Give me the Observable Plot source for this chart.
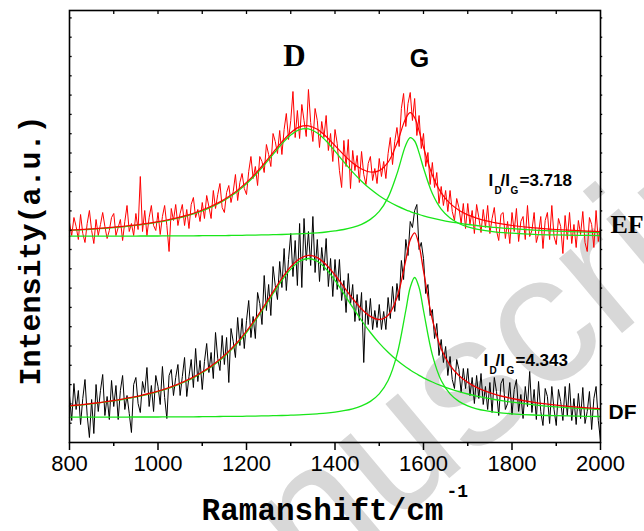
<!DOCTYPE html>
<html><head><meta charset="utf-8">
<script src="https://cdn.jsdelivr.net/npm/d3@7"></script>
<script src="https://cdn.jsdelivr.net/npm/@observablehq/plot@0.6"></script>
<style>body{margin:0;background:#fff}#chart svg{display:block}</style>
</head><body><div id="chart"></div>
<script>
// Raman shift grid of the measured spectra (cm^-1)
const ramanX = d3.range(800, 2001, 5);
// EF measured spectrum (a.u., offset trace)
const efRaw = [220,207,225,216,203,228,209,200,219,232,212,199,223,207,218,230,216,204,212,225,229,207,215,223,202,221,237,211,219,207,229,213,266,211,232,207,225,237,217,212,230,208,226,237,217,191,234,222,238,217,229,238,217,233,214,238,245,225,233,221,240,224,247,236,224,252,234,248,259,235,230,250,257,240,251,268,242,260,269,254,248,271,286,264,276,257,286,281,270,298,288,276,309,301,289,312,288,313,329,303,322,351,305,332,304,338,322,306,353,320,301,334,322,295,321,305,327,292,309,281,313,299,272,255,302,276,303,254,292,272,287,260,291,268,258,279,286,262,274,259,284,266,281,264,289,305,278,301,315,296,334,349,316,339,350,322,344,307,327,294,309,276,290,258,280,255,270,239,256,237,252,231,252,231,222,244,235,219,239,214,239,218,232,209,238,225,210,233,215,237,209,224,235,212,202,228,230,204,221,199,230,211,234,201,221,226,203,237,206,212,230,200,209,226,194,222,230,203,237,206,198,224,216,189,227,203,230,199,218,195,222,208,231,200,191,225,218,195,232,201,216];
// DF measured spectrum
const dfRaw = [47,22,59,33,52,18,44,63,27,5,43,9,58,31,52,68,27,46,23,62,36,57,23,52,67,33,47,29,10,58,65,39,30,61,50,75,36,57,31,67,56,38,76,45,24,67,73,47,65,78,47,66,85,46,66,83,55,94,61,82,53,81,99,70,90,64,110,84,72,107,78,105,60,114,101,85,125,97,124,94,122,142,105,126,104,150,139,118,167,132,158,127,176,157,143,181,155,194,152,183,209,166,202,157,219,155,224,182,211,177,226,170,203,161,195,172,204,156,184,146,183,153,183,142,162,130,169,138,158,121,148,122,150,80,142,118,144,113,132,115,138,113,131,113,145,124,156,131,159,142,182,163,203,187,221,215,232,238,193,200,184,149,158,127,133,104,119,87,103,80,96,67,86,63,54,83,73,50,74,54,74,47,65,39,67,44,69,38,56,33,60,30,65,51,27,59,64,33,39,60,28,53,63,31,48,24,56,36,71,30,53,23,61,31,17,54,46,19,56,33,17,53,41,22,56,27,59,22,44,18,49,24,55,19,31,51,13,44,56,22,2];
// Fit curves sampled at these shifts
const fitX = [800,820,840,860,880,900,920,940,960,980,1000,1020,1040,1060,1080,1100,1120,1140,1160,1180,1200,1220,1240,1260,1280,1300,1320,1340,1360,1380,1400,1420,1440,1460,1480,1500,1520,1540,1560,1570,1580,1590,1600,1620,1640,1660,1680,1700,1720,1740,1760,1780,1800,1850,1900,1950,2000];
const efFit = [212.4,212.8,213.3,213.9,214.6,215.3,216.2,217.1,218.2,219.4,220.8,222.5,224.4,226.7,229.3,232.5,236.2,240.6,246.0,252.4,260.1,268.9,279.0,289.9,300.6,309.8,315.6,316.7,313.2,306.0,296.9,287.6,279.5,273.5,270.5,271.9,280.3,299.2,324.2,329.8,324.9,311.6,295.2,267.3,249.7,239.1,232.3,227.6,224.4,221.8,219.9,218.3,217.0,214.6,213.0,211.8,210.9];
const efD = [212.1,212.5,213.0,213.6,214.2,214.9,215.7,216.7,217.7,218.9,220.3,221.9,223.8,226.0,228.6,231.7,235.3,239.7,245.0,251.3,258.8,267.5,277.4,288.1,298.6,307.5,312.9,313.6,309.5,301.5,291.3,280.6,270.4,261.3,253.4,246.8,241.2,236.6,232.7,231.0,229.4,228.0,226.7,224.4,222.4,220.7,219.3,218.0,217.0,216.0,215.2,214.4,213.8,212.4,211.4,210.6,210.0];
const efG = [206.3,206.3,206.3,206.4,206.4,206.4,206.4,206.4,206.5,206.5,206.5,206.6,206.6,206.7,206.7,206.8,206.9,206.9,207.0,207.1,207.3,207.4,207.6,207.8,208.0,208.3,208.7,209.1,209.7,210.5,211.6,213.0,215.1,218.2,223.1,231.1,245.1,268.6,297.5,304.8,301.5,289.6,274.5,248.9,233.3,224.4,219.0,215.6,213.4,211.8,210.7,209.9,209.3,208.2,207.6,207.2,206.9];
const dfFit = [36.7,37.5,38.5,39.5,40.7,42.0,43.4,45.1,46.9,49.0,51.4,54.2,57.4,61.2,65.4,70.5,76.4,83.2,91.3,100.5,111.3,123.4,136.7,150.6,164.1,175.7,183.8,187.1,184.9,177.8,167.5,155.6,143.8,133.6,126.1,123.0,127.2,144.8,182.5,202.5,209.7,197.1,171.7,123.1,93.8,77.2,67.0,60.1,55.1,51.4,48.4,46.0,44.0,40.1,37.4,35.4,33.8];
const dfD = [36.4,37.2,38.1,39.2,40.3,41.6,43.0,44.6,46.4,48.5,50.9,53.6,56.8,60.5,64.7,69.7,75.5,82.2,90.2,99.4,110.0,122.0,135.1,148.8,162.1,173.4,181.2,184.0,181.2,173.4,162.1,148.8,135.1,122.0,110.0,99.4,90.2,82.2,75.5,72.5,69.7,67.1,64.7,60.5,56.8,53.6,50.9,48.5,46.4,44.6,43.0,41.6,40.3,37.7,35.6,34.1,32.8];
const dfG = [25.3,25.3,25.3,25.4,25.4,25.4,25.4,25.5,25.5,25.5,25.5,25.6,25.6,25.7,25.7,25.8,25.9,26.0,26.1,26.1,26.3,26.4,26.6,26.8,27.0,27.3,27.6,28.1,28.7,29.4,30.4,31.8,33.7,36.6,41.1,48.6,62.0,87.6,132.0,155.0,165.0,155.0,132.0,87.6,62.0,48.6,41.1,36.6,33.7,31.8,30.4,29.4,28.7,27.5,26.8,26.3,26.0];
// Axis ticks
const xMajorTicks = [800,1000,1200,1400,1600,1800,2000];
const xMinorTicks = [900,1100,1300,1500,1700,1900];
const xTopTicks = [900,1000,1100,1200,1300,1400,1500,1600,1700,1800,1900];
const yTicks = d3.range(1, 23).map(k => k * 19.3);
// Labels
const peakLabels = ["D", "G"];
const ratioEF = "=3.718", ratioDF = "=4.343";
const seriesLabels = ["EF", "DF"];
const xLabel = "Ramanshift/cm", xLabelSup = "-1";
const yLabel = "Intensity(a.u.)";
const watermark = "Manuscript";

const pts = (xs, ys) => ys.map((v, i) => ({x: xs[i], y: v}));
const green = "#19e619";
const L = 69, T = 10;
const ann = (txt, px, py, o) => Plot.text([txt], Object.assign({frameAnchor: "top-left", dx: px - L, dy: py - T, text: d => d, lineAnchor: "bottom", textAnchor: "start", fill: "#000"}, o));
const bold17 = {fontFamily: "Liberation Sans", fontWeight: "bold", fontSize: 17};
const sub10 = {fontFamily: "Liberation Sans", fontWeight: "bold", fontSize: 10};

const chart = Plot.plot({
  width: 644, height: 531,
  marginLeft: L, marginRight: 44, marginTop: T, marginBottom: 89,
  style: {fontFamily: "Liberation Sans", fontSize: "22px", background: "#fff", color: "#000", overflow: "hidden"},
  x: {domain: [800, 2000]},
  y: {domain: [0, 432], axis: null},
  marks: [
    ann(watermark, 424, 421, {fontSize: 185, fontFamily: "Liberation Sans", fill: "#d8d8d8", rotate: -40, textAnchor: "middle", lineAnchor: "middle"}),
    Plot.line(pts(ramanX, efRaw), {x: "x", y: "y", stroke: "#ff0000", strokeWidth: 1}),
    Plot.line(pts(ramanX, dfRaw), {x: "x", y: "y", stroke: "#000", strokeWidth: 1}),
    Plot.line(pts(fitX, efD), {x: "x", y: "y", stroke: green, strokeWidth: 1.3, curve: "catmull-rom"}),
    Plot.line(pts(fitX, efG), {x: "x", y: "y", stroke: green, strokeWidth: 1.3, curve: "catmull-rom"}),
    Plot.line(pts(fitX, dfD), {x: "x", y: "y", stroke: green, strokeWidth: 1.3, curve: "catmull-rom"}),
    Plot.line(pts(fitX, dfG), {x: "x", y: "y", stroke: green, strokeWidth: 1.3, curve: "catmull-rom"}),
    Plot.line(pts(fitX, efFit), {x: "x", y: "y", stroke: "#ff0000", strokeWidth: 1.2, curve: "catmull-rom"}),
    Plot.line(pts(fitX, dfFit), {x: "x", y: "y", stroke: "#ee0000", strokeWidth: 1.3, curve: "catmull-rom"}),
    Plot.frame({stroke: "#000", strokeWidth: 1.6}),
    Plot.ruleX(xTopTicks, {x: d => d, y1: 432, y2: 428, stroke: "#000", strokeWidth: 1.3}),
    Plot.ruleY(yTicks, {y: d => d, x1: 800, x2: 806, stroke: "#000", strokeWidth: 1.3}),
    Plot.ruleY(yTicks, {y: d => d, x1: 2000, x2: 2005, stroke: "#000", strokeWidth: 1.3, clip: false}),
    Plot.axisX({ticks: xMajorTicks, label: null, tickSize: 8, tickPadding: 5, strokeWidth: 1.5, tickFormat: d => String(d), fontSize: 22, fontFamily: "Liberation Sans"}),
    Plot.axisX({ticks: xMinorTicks, label: null, tickSize: 4, strokeWidth: 1.5, tickFormat: () => ""}),
    ann(peakLabels[0], 294, 65, {fontFamily: "Liberation Serif", fontWeight: "bold", fontSize: 31, textAnchor: "middle"}),
    ann(peakLabels[1], 419, 66, {fontFamily: "Liberation Sans", fontWeight: "bold", fontSize: 25, textAnchor: "middle"}),
    ann("I", 488, 185, bold17), ann("D", 494, 193, sub10), ann("/I", 500, 185, bold17), ann("G", 510, 193, sub10), ann(ratioEF, 519, 185, bold17),
    ann("I", 483, 365, bold17), ann("D", 489, 373, sub10), ann("/I", 495, 365, bold17), ann("G", 506, 373, sub10), ann(ratioDF, 515, 365, bold17),
    ann(seriesLabels[0], 610, 232, {fontFamily: "Liberation Serif", fontWeight: "bold", fontSize: 26}),
    ann(seriesLabels[1], 608, 418, {fontFamily: "Liberation Sans", fontWeight: "bold", fontSize: 21}),
    ann(xLabel, 322, 519, {fontFamily: "Liberation Mono", fontWeight: "bold", fontSize: 31, textAnchor: "middle"}),
    ann(xLabelSup, 446, 496, {fontFamily: "Liberation Mono", fontWeight: "bold", fontSize: 18}),
    ann(yLabel, 30, 250, {fontFamily: "Liberation Mono", fontWeight: "bold", fontSize: 30, rotate: -90, textAnchor: "middle", lineAnchor: "middle"})
  ]
});
document.getElementById("chart").appendChild(chart);
</script>
</body></html>
